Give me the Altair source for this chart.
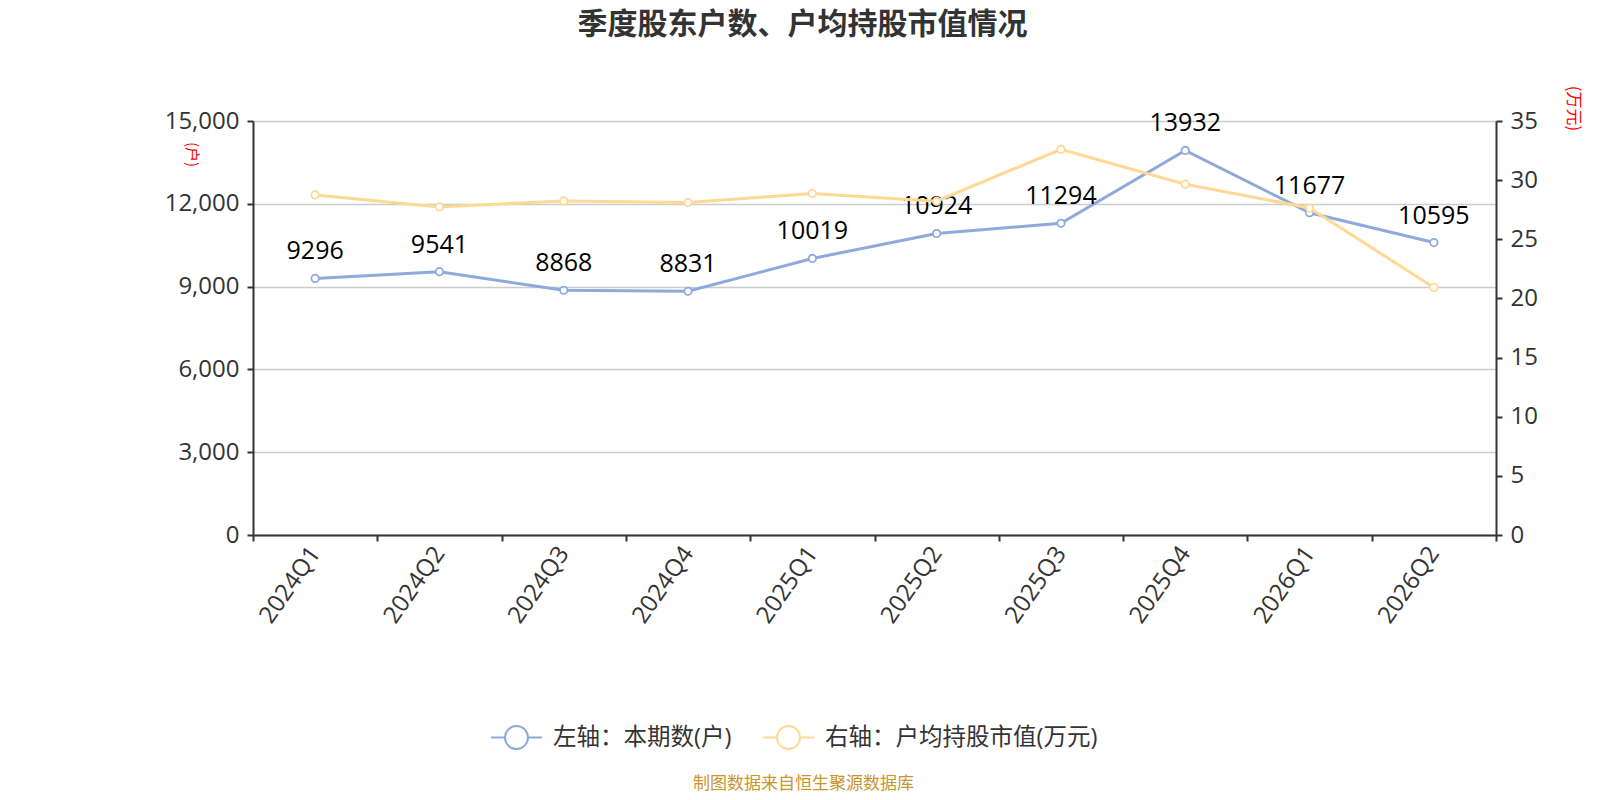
import altair as alt
import pandas as pd

quarters = ["2024Q1", "2024Q2", "2024Q3", "2024Q4", "2025Q1",
            "2025Q2", "2025Q3", "2025Q4", "2026Q1", "2026Q2"]
holders = [9296, 9541, 8868, 8831, 10019, 10924, 11294, 13932, 11677, 10595]
avg_value = [28.75, 27.74, 28.24, 28.11, 28.87, 28.22, 32.61, 29.66, 27.65, 20.93]

S_LEFT = "左轴：本期数(户)"
S_RIGHT = "右轴：户均持股市值(万元)"
BLUE = "#8EAADC"
YELLOW = "#FFD896"
FONT = "Open Sans, Noto Sans CJK SC"
CJK = "Noto Sans CJK SC"
AXIS_FS = 24

df = pd.DataFrame({
    "q": quarters * 2,
    "v": holders + avg_value,
    "s": [S_LEFT] * len(quarters) + [S_RIGHT] * len(quarters),
    "lab": [str(h) for h in holders] + [""] * len(quarters),
})

W, H = 1243, 414

color = alt.Color(
    "s:N",
    scale=alt.Scale(domain=[S_LEFT, S_RIGHT], range=[BLUE, YELLOW]),
    legend=alt.Legend(
        title=None,
        orient="none",
        direction="horizontal",
        legendX=237,
        legendY=590,
        symbolType="M-1,0L-0.45,0M0.45,0L1,0M0.45,0A0.45,0.45,0,1,1,-0.45,0A0.45,0.45,0,1,1,0.45,0",
        symbolSize=2600,
        symbolStrokeWidth=2,
        symbolFillColor="white",
        labelFontSize=23.5,
        labelFont=FONT,
        labelColor="#333333",
        labelOffset=10,
        labelLimit=500,
        columnPadding=27,
    ),
)

xenc = alt.X(
    "q:N",
    sort=quarters,
    scale=alt.Scale(paddingInner=0, paddingOuter=0),
    axis=alt.Axis(
        title="制图数据来自恒生聚源数据库",
        titleColor="#C8962E",
        titleFont=CJK,
        titleFontSize=17,
        titleFontWeight="normal",
        titleX=550,
        titleY=248,
        titleAlign="center",
        titleBaseline="middle",
        titleAnchor="start",
        labelAngle=-55,
        labelAlign="right",
        labelBaseline="middle",
        labelFontSize=AXIS_FS,
        labelFont=FONT,
        labelColor="#333333",
        labelPadding=8,
        tickBand="extent",
        tickSize=6,
        tickColor="#333333",
        domainColor="#333333",
        domainWidth=2,
        tickWidth=2,
        grid=False,
    ),
)

left_y = alt.Y(
    "v:Q",
    scale=alt.Scale(domain=[0, 15000]),
    axis=alt.Axis(
        values=[0, 3000, 6000, 9000, 12000, 15000],
        format=",d",
        title="(户)",
        titleColor="red",
        titleFont=CJK,
        titleFontSize=15,
        titleFontWeight="normal",
        titleAngle=90,
        titleX=-62,
        titleY=33,
        titleAlign="center",
        titleBaseline="middle",
        labelFontSize=AXIS_FS,
        labelFont=FONT,
        labelColor="#333333",
        labelPadding=8,
        tickSize=6,
        tickWidth=2,
        tickColor="#333333",
        domainColor="#333333",
        domainWidth=2,
        gridColor="#CCCCCC",
        gridWidth=1.5,
    ),
)

point_def = alt.OverlayMarkDef(filled=False, fill="white", strokeWidth=1.8, size=55, opacity=1)

base = alt.Chart(df)

left_line = base.transform_filter(alt.datum.s == S_LEFT).mark_line(
    strokeWidth=3, point=point_def,
).encode(x=xenc, y=left_y, color=color)

left_text = base.transform_filter(alt.datum.s == S_LEFT).mark_text(
    baseline="bottom", dy=-14, fontSize=25, font=FONT, color="black"
).encode(
    x=xenc,
    y=left_y,
    text="lab:N",
)

left = alt.layer(left_line, left_text)

right = base.transform_filter(alt.datum.s == S_RIGHT).mark_line(
    strokeWidth=3, point=point_def,
).encode(
    x=xenc,
    y=alt.Y(
        "v:Q",
        scale=alt.Scale(domain=[0, 35]),
        axis=alt.Axis(
            orient="right",
            values=[0, 5, 10, 15, 20, 25, 30, 35],
            title="(万元)",
            titleColor="red",
            titleFont=CJK,
            titleFontSize=17,
            titleFontWeight="normal",
            titleAngle=90,
            titleX=76,
            titleY=-13,
            titleAlign="center",
            titleBaseline="middle",
            labelFontSize=AXIS_FS,
            labelFont=FONT,
            labelColor="#333333",
            labelPadding=8,
            tickSize=6,
            tickWidth=2,
            tickColor="#333333",
            domainColor="#333333",
            domainWidth=2,
            grid=False,
        ),
    ),
    color=color,
)

chart = alt.layer(left, right).resolve_scale(y="independent").properties(
    width=W,
    height=H,
    autosize=alt.AutoSizeParams(type="none"),
    padding={"left": 245, "top": 113, "right": 96, "bottom": 257},
    title=alt.TitleParams(
        "季度股东户数、户均持股市值情况",
        font=CJK,
        fontSize=30,
        fontWeight="bold",
        color="#333333",
        anchor="middle",
        dx=-72,
        offset=30,
        baseline="middle",
    ),
).configure_view(stroke=None)

chart.save("out.html", embed_options={"renderer": "svg", "actions": False})
